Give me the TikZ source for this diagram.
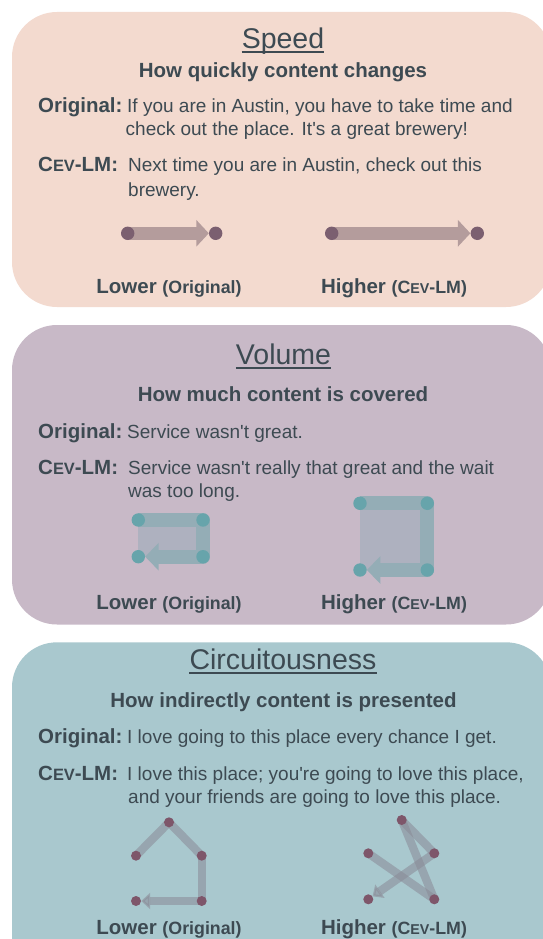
\documentclass[tikz,border=0pt]{standalone}
\usepackage{fontspec}
\setmainfont{Liberation Sans}
\usepackage{graphicx}
\usetikzlibrary{arrows.meta}

\definecolor{txt}{HTML}{3D4A52}
\definecolor{spdbg}{HTML}{F3DACF}
\definecolor{volbg}{HTML}{C8B9C7}
\definecolor{cirbg}{HTML}{A9C8CE}
\definecolor{spddot}{HTML}{7B5F70}
\definecolor{spdbar}{HTML}{B49C9C}
\definecolor{voldot}{HTML}{67A4AB}
\definecolor{volbar}{HTML}{94ADB6}
\definecolor{volfill}{HTML}{AEB1BF}
\definecolor{cirdot}{HTML}{7E566A}
\definecolor{cirbar}{HTML}{8A8A96}

\newcommand{\cevlm}{C\scalebox{0.8}{EV}-LM}
\newcommand{\apo}{\textquotesingle}

\begin{document}
\begin{tikzpicture}[x=1pt, y=-1pt,
    every node/.style={inner sep=0pt, text=txt},
    title/.style={anchor=base, font=\fontsize{28.5}{30}\selectfont},
    sub/.style={anchor=base, font=\bfseries\fontsize{20.5}{22}\selectfont},
    tag/.style={anchor=base west, font=\bfseries\fontsize{20.5}{22}\selectfont},
    body/.style={anchor=base west, font=\fontsize{19}{23}\selectfont},
    lbl/.style={anchor=base, font=\bfseries\fontsize{20.5}{22}\selectfont},
    panel/.style={rounded corners=45pt},
    bigdot/.style={circle, minimum size=13.4pt},
    smalldot/.style={circle, minimum size=10pt},
    spdarrow/.style={draw=spdbar, line width=12.7pt, -{Triangle[width=26pt,length=12.5pt]}},
    volarrow/.style={draw=volbar, line width=14pt, line join=round, -{Triangle[width=27pt,length=13.5pt]}},
    cirline/.style={draw=cirbar, opacity=0.55, line width=8.3pt},
    cirarrow/.style={cirline, -{Triangle[width=16pt,length=9pt]}}]

    \useasboundingbox (0,0) rectangle (543,939);
    \clip (0,0) rectangle (543,939);

    % panels
    \fill[spdbg, panel] (12,12) rectangle (551,307);
    \fill[volbg, panel] (12,325) rectangle (551,624.5);
    \fill[cirbg, panel] (12,642.3) rectangle (551,990);

    % speed
    \node[title] (t1) at (283,48.3) {Speed};
    \draw[txt, line width=1.6pt] ([yshift=-4pt]t1.base west) -- ([yshift=-4pt]t1.base east);
    \node[sub] (s1) at (283,77.3) {How quickly content changes};
    \node[tag] (o1) at (38,112.7) {Original:};
    \node[body] (o1a) at (127,112.7) {If you are in Austin, you have to take time and};
    \node[body] (o1b) at (125.5,135.7) {check out the place. It\apo s a great brewery!};
    \node[tag] (c1) at (38,171.7) {\cevlm:};
    \node[body] (c1a) at (128,171.7) {Next time you are in Austin, check out this};
    \node[body] (c1b) at (128,196) {brewery.};

    \node[bigdot] (a1) at (127.7,233.3) {};
    \node[bigdot] (a2) at (215.7,233.3) {};
    \node[bigdot] (b1) at (331.7,233.3) {};
    \node[bigdot] (b2) at (477.3,233.3) {};
    \draw[spdarrow] (a1.center) -- (a2);
    \draw[spdarrow] (b1.center) -- (b2);
    \foreach \n in {a1,a2,b1,b2} \fill[spddot] (\n) circle[radius=6.7pt];

    \node[lbl] (l1) at (169,293.3) {Lower {\fontsize{17.8}{20}\selectfont (Original)}};
    \node[lbl] (h1) at (394,293.3) {Higher {\fontsize{17.8}{20}\selectfont (\cevlm)}};

    % volume
    \node[title] (t2) at (283.5,364) {Volume};
    \draw[txt, line width=1.6pt] ([yshift=-4pt]t2.base west) -- ([yshift=-4pt]t2.base east);
    \node[sub] (s2) at (283,401) {How much content is covered};
    \node[tag] (o2) at (38,438.3) {Original:};
    \node[body] (o2a) at (127,438.3) {Service wasn\apo t great.};
    \node[tag] (c2) at (38,474) {\cevlm:};
    \node[body] (c2a) at (128,474) {Service wasn\apo t really that great and the wait};
    \node[body] (c2b) at (128,497.7) {was too long.};

    \node[bigdot] (v1) at (138.3,520) {};
    \node[bigdot] (v2) at (203,520) {};
    \node[bigdot] (v3) at (138.3,556.7) {};
    \node[bigdot] (v4) at (203,556.7) {};
    \fill[volfill] (v1.center) rectangle (v4.center);
    \draw[volarrow] (v1.center) -- (v2.center) -- (v4.center) -- (v3);

    \node[bigdot] (w1) at (360,503.3) {};
    \node[bigdot] (w2) at (427.3,503.3) {};
    \node[bigdot] (w3) at (360,570) {};
    \node[bigdot] (w4) at (427.3,570) {};
    \fill[volfill] (w1.center) rectangle (w4.center);
    \draw[volarrow] (w1.center) -- (w2.center) -- (w4.center) -- (w3);
    \foreach \n in {v1,v2,v3,v4,w1,w2,w3,w4} \fill[voldot] (\n) circle[radius=6.7pt];

    \node[lbl] (l2) at (169,609.3) {Lower {\fontsize{17.8}{20}\selectfont (Original)}};
    \node[lbl] (h2) at (394,609.3) {Higher {\fontsize{17.8}{20}\selectfont (\cevlm)}};

    % circuitousness
    \node[title] (t3) at (283,669) {Circuitousness};
    \draw[txt, line width=1.6pt] ([yshift=-4pt]t3.base west) -- ([yshift=-4pt]t3.base east);
    \node[sub] (s3) at (283.5,707.7) {How indirectly content is presented};
    \node[tag] (o3) at (38,743.3) {Original:};
    \node[body] (o3a) at (127,743.3) {I love going to this place every chance I get.};
    \node[tag] (c3) at (38,780) {\cevlm:};
    \node[body] (c3a) at (127,780) {I love this place; you\apo re going to love this place,};
    \node[body] (c3b) at (128,803.3) {and your friends are going to love this place.};

    \node[smalldot] (p1) at (136,855.7) {};
    \node[smalldot] (p2) at (169,822.3) {};
    \node[smalldot] (p3) at (201.7,855.7) {};
    \node[smalldot] (p4) at (201.7,901) {};
    \node[smalldot] (p5) at (136,901) {};
    \draw[cirline] (p1.center) -- (p2.center);
    \draw[cirline] (p2.center) -- (p3.center);
    \draw[cirline] (p3.center) -- (p4.center);
    \draw[cirarrow] (p4.center) -- (p5);

    \node[smalldot] (q1) at (368.3,853.3) {};
    \node[smalldot] (q2) at (401.7,820) {};
    \node[smalldot] (q3) at (434.3,853.3) {};
    \node[smalldot] (q4) at (434.3,899.3) {};
    \node[smalldot] (q5) at (368.3,899.3) {};
    \draw[cirline] (q1.center) -- (q4.center);
    \draw[cirline] (q4.center) -- (q2.center);
    \draw[cirline] (q2.center) -- (q3.center);
    \draw[cirarrow] (q3.center) -- (q5);
    \foreach \n in {p1,p2,p3,p4,p5,q1,q2,q3,q4,q5} \fill[cirdot] (\n) circle[radius=5pt];

    \node[lbl] (l3) at (169,934) {Lower {\fontsize{17.8}{20}\selectfont (Original)}};
    \node[lbl] (h3) at (394,934) {Higher {\fontsize{17.8}{20}\selectfont (\cevlm)}};

\end{tikzpicture}
\end{document}
